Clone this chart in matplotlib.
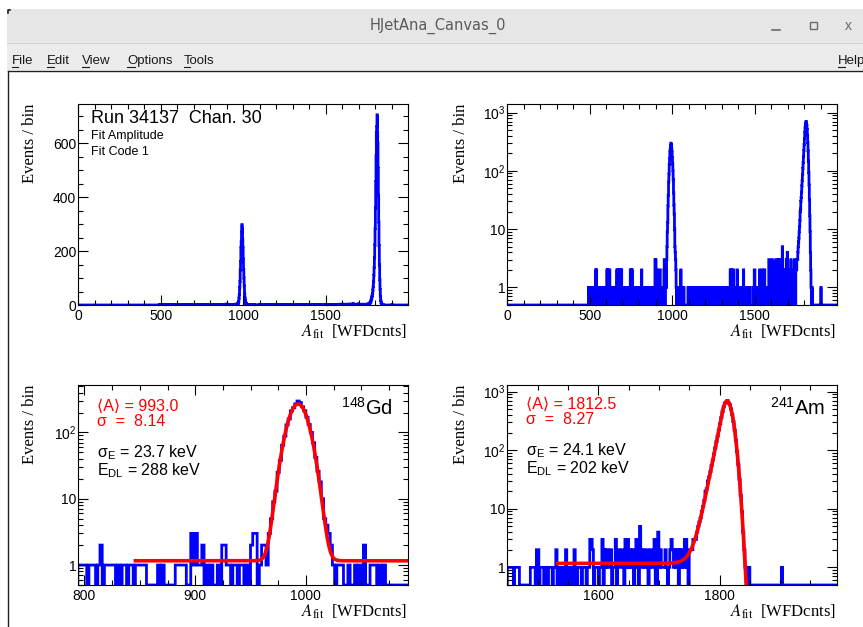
import numpy as np
import matplotlib
matplotlib.use("Agg")
import matplotlib.pyplot as plt
from matplotlib.patches import Rectangle
from matplotlib.ticker import FixedLocator, FixedFormatter, MultipleLocator, LogLocator, NullFormatter

plt.rcParams['font.family'] = ['Liberation Sans', 'DejaVu Sans']
plt.rcParams['mathtext.fontset'] = 'custom'
plt.rcParams['mathtext.rm'] = 'Liberation Sans'
plt.rcParams['mathtext.it'] = 'Liberation Sans:italic'
plt.rcParams['mathtext.bf'] = 'Liberation Sans:bold'

# ---- histogram of fitted amplitudes, 2 WFD counts per bin, 0..2000 ----
bin_width = 2
x_max = 2000

# background bins (left edge of bin) grouped by content
bkg_1 = [492, 496, 498, 502, 506, 508, 512, 514, 518, 522, 526, 530, 542, 546, 550,
         552, 556, 560, 562, 566, 568, 572, 576, 580, 582, 586, 588, 592, 596, 598,
         602, 610, 614, 616, 620, 624, 628, 632, 634, 638, 640, 644, 646, 650, 654,
         658, 662, 668, 674, 686, 692, 694, 698, 700, 704, 706, 710, 712, 716, 718,
         722, 724, 728, 730, 734, 736, 740, 742, 750, 758, 762, 766, 768, 772, 774,
         778, 780, 784, 786, 788, 790,
         794, 796, 798, 800, 804, 806, 808, 812, 818, 820, 822, 824, 826, 830, 834,
         836, 840, 842, 846, 848, 850, 852, 854, 866, 870, 882, 884, 886, 888, 890,
         898, 902, 904, 910, 914, 920, 928, 930, 934, 936, 940, 942, 946, 958,
         1028, 1030, 1032, 1038, 1044, 1048, 1058, 1060, 1062, 1066, 1070,
         1096, 1100, 1104, 1114, 1126, 1138, 1142, 1146, 1152, 1156, 1160, 1162, 1166,
         1170, 1172, 1178, 1182, 1186, 1190, 1192, 1196, 1198, 1204, 1208, 1212, 1216,
         1218, 1222, 1224, 1228, 1232, 1236, 1238, 1242, 1244, 1248, 1250, 1254, 1258,
         1262, 1264, 1268, 1270, 1274, 1276, 1280, 1284, 1288, 1290, 1294, 1296, 1300,
         1304, 1308, 1310, 1314, 1316, 1320, 1322, 1326, 1330, 1334, 1336, 1340, 1342,
         1346, 1348, 1356, 1362, 1366, 1370, 1376, 1380, 1384, 1390, 1398, 1404, 1408,
         1410, 1414, 1418, 1422, 1424, 1428, 1434, 1438, 1442, 1444,
         1450, 1452, 1454, 1456, 1458, 1462, 1464, 1466, 1468, 1488, 1490, 1492, 1494,
         1504, 1506, 1508, 1512, 1514, 1518, 1520, 1522, 1526, 1528, 1534, 1536, 1540,
         1542, 1550, 1552, 1556, 1560, 1562, 1566, 1568, 1570, 1574, 1576, 1578, 1582,
         1584, 1594, 1596, 1598, 1602, 1604, 1612, 1616, 1618, 1620, 1624, 1626, 1634,
         1636, 1644, 1646, 1650, 1654, 1660, 1664, 1672, 1676, 1678, 1680, 1684, 1688,
         1690, 1700, 1704, 1706, 1708, 1712, 1716, 1724, 1728, 1736, 1740, 1746,
         1848, 1902]
bkg_2 = [536, 540, 604, 608, 620, 664, 670, 676, 682, 688, 692, 746, 752, 756,
         814, 906, 924, 926, 950, 960, 1052,
         1352, 1358, 1372, 1394, 1432, 1498, 1500, 1530, 1546, 1560, 1590, 1610,
         1614, 1620, 1632, 1638, 1640, 1652, 1656, 1670, 1674, 1680, 1686, 1702,
         1710, 1718, 1722, 1726, 1730, 1734, 1738]
bkg_3 = [896, 900, 952, 954, 1586, 1588, 1606, 1628, 1644, 1648, 1662, 1692, 1720,
         1742, 1744]
bkg_4 = [1698]
bkg_5 = [1668]

# 148Gd peak, bins starting at 962
gd_first_bin = 962
gd_counts = [2, 1, 3, 5, 9, 13, 25, 38, 64, 88, 130, 160, 212, 236, 270, 298,
             282, 244, 212, 170, 132, 100, 70, 42, 26, 18, 10, 5, 4, 3, 2, 1]

# 241Am peak, bins starting at 1750
am_first_bin = 1750
am_counts = [2, 2, 2, 3, 3, 3, 4, 5, 6, 7, 9, 11, 14, 20, 22, 30, 35, 43, 55, 68,
             86, 110, 140, 175, 222, 283, 360, 457, 553, 640, 660, 705, 640, 600,
             507, 407, 308, 220, 148, 94, 57, 32, 17, 9, 4, 2, 1, 1]

# fit results (gaussian + flat background; Am with low-side exponential tail)
gd_mean, gd_sigma, gd_amp, gd_bkg = 993.0, 8.14, 268.0, 1.16
gd_fit_range = (846, 1092)
am_mean, am_sigma, am_amp, am_bkg, am_tail = 1812.5, 8.27, 690.0, 1.17, 1.0
am_fit_range = (1533, 1860)

edges = np.arange(0, x_max + bin_width, bin_width)
counts = np.zeros(len(edges) - 1)
for lst, c in ((bkg_1, 1), (bkg_2, 2), (bkg_3, 3), (bkg_4, 4), (bkg_5, 5)):
    counts[np.array(lst) // bin_width] = c
i0 = gd_first_bin // bin_width
counts[i0:i0 + len(gd_counts)] = gd_counts
i0 = am_first_bin // bin_width
counts[i0:i0 + len(am_counts)] = am_counts


def gd_fit(x):
    return gd_bkg + gd_amp * np.exp(-0.5 * ((x - gd_mean) / gd_sigma) ** 2)


def am_fit(x):
    d = (x - am_mean) / am_sigma
    core = np.where(d > -am_tail,
                    np.exp(-0.5 * d ** 2),
                    np.exp(0.5 * am_tail ** 2 + am_tail * d))
    return am_amp * core + np.where(x < am_mean, am_bkg, 0.0)


# ---- figure / window chrome (pixel coordinates) ----
W, H = 863, 627
fig = plt.figure(figsize=(W / 100, H / 100), dpi=100)

bg = fig.add_axes([0, 0, 1, 1], zorder=0)
bg.set_xlim(0, W)
bg.set_ylim(H, 0)
bg.axis('off')
bg.add_patch(Rectangle((7, 9), W - 7, 34, color='#e6e6e6', lw=0))
bg.add_patch(Rectangle((7, 43), W - 7, 1.2, color='#d2d2d2', lw=0))
bg.add_patch(Rectangle((7, 44.2), W - 7, 25.5, color='#ebebeb', lw=0))
bg.plot([7.5, W], [70.5, 70.5], color='#202020', lw=1.0)
bg.plot([7.5, 7.5], [70.5, H], color='#202020', lw=1.0)
bg.plot([7.5, 7.5, 10], [13, 9.5, 9.5], color='#202020', lw=1.2)
bg.text(438, 26, 'HJetAna_Canvas_0', ha='center', va='center', fontsize=10.5,
        family='DejaVu Sans', color='#5a5a5a')
bg.plot([772, 780], [30, 30], color='#6a6a6a', lw=1.2)
bg.add_patch(Rectangle((810, 22), 6.5, 6.5, fill=False, ec='#6a6a6a', lw=1.0))
bg.text(848, 26, 'x', ha='center', va='center', fontsize=10, color='#6a6a6a')

menu = [('File', 12, 6), ('Edit', 47, 7), ('View', 82, 7), ('Options', 127, 8),
        ('Tools', 184, 6), ('Help', 838, 7)]
for label, xm, ul in menu:
    bg.text(xm, 64, label, ha='left', va='baseline', fontsize=9.5, color='#1a1a1a',
            clip_on=True)
    bg.plot([xm, xm + ul], [66.5, 66.5], color='#1a1a1a', lw=0.8)


def add_panel(left, top, right, bottom):
    ax = fig.add_axes([left / W, 1 - bottom / H, (right - left) / W, (bottom - top) / H],
                      zorder=1)
    ax.set_facecolor('white')
    for s in ax.spines.values():
        s.set_linewidth(0.8)
    ax.tick_params(which='both', direction='in', top=True, right=True,
                   labelsize=10, width=0.8)
    ax.tick_params(which='major', length=7)
    ax.tick_params(which='minor', length=3.5)
    ax.tick_params(axis='x', pad=3.2)
    ax.tick_params(axis='y', pad=1.5)
    return ax


def log_y(ax, lo, hi, decades):
    ax.set_yscale('log')
    ax.set_ylim(lo, hi)
    ax.yaxis.set_major_locator(FixedLocator(decades))
    names = {1: '1', 10: '10', 100: r'$10^{2}$', 1000: r'$10^{3}$'}
    ax.yaxis.set_major_formatter(FixedFormatter([names[d] for d in decades]))
    ax.yaxis.set_minor_locator(LogLocator(base=10, subs=np.arange(2, 10), numticks=30))
    ax.yaxis.set_minor_formatter(NullFormatter())


hist_kw = dict(color='blue', lw=2.0, baseline=None)
fit_kw = dict(color='red', lw=2.6)

# top left: linear, full range
ax1 = add_panel(78.3, 104, 408, 305)
ax1.stairs(counts, edges, **hist_kw)
ax1.set_xlim(0, x_max)
ax1.set_ylim(0, 745)
ax1.xaxis.set_major_locator(FixedLocator([0, 500, 1000, 1500]))
ax1.xaxis.set_minor_locator(MultipleLocator(100))
ax1.yaxis.set_major_locator(FixedLocator([0, 200, 400, 600]))
ax1.yaxis.set_minor_locator(MultipleLocator(50))

# top right: log, full range
ax2 = add_panel(507.3, 104, 837, 305)
ax2.stairs(np.maximum(counts, 0.5), edges, **hist_kw)
ax2.set_xlim(0, x_max)
log_y(ax2, 0.5, 1400, [1, 10, 100, 1000])
ax2.xaxis.set_major_locator(FixedLocator([0, 500, 1000, 1500]))
ax2.xaxis.set_minor_locator(MultipleLocator(100))

# bottom left: 148Gd peak
ax3 = add_panel(78.3, 385, 408, 585)
ax3.stairs(np.maximum(counts, 0.5), edges, **hist_kw)
xg = np.linspace(*gd_fit_range, 600)
ax3.plot(xg, gd_fit(xg), **fit_kw)
ax3.set_xlim(0.8 * gd_mean, 1.1 * gd_mean)
log_y(ax3, 0.5, 520, [1, 10, 100])
ax3.xaxis.set_major_locator(FixedLocator([800, 900, 1000]))
ax3.xaxis.set_minor_locator(MultipleLocator(25))

# bottom right: 241Am peak
ax4 = add_panel(507.3, 385, 837, 585)
ax4.stairs(np.maximum(counts, 0.5), edges, **hist_kw)
xa = np.linspace(*am_fit_range, 800)
ax4.plot(xa, am_fit(xa), **fit_kw)
ax4.set_xlim(0.8 * am_mean, 1.1 * am_mean)
log_y(ax4, 0.5, 1300, [1, 10, 100, 1000])
ax4.xaxis.set_major_locator(FixedLocator([1600, 1800]))
ax4.xaxis.set_minor_locator(MultipleLocator(50))

# ---- overlay texts (pixel coordinates) ----
fg = fig.add_axes([0, 0, 1, 1], zorder=5)
fg.set_xlim(0, W)
fg.set_ylim(H, 0)
fg.axis('off')
fg.patch.set_alpha(0)

serif = ['Liberation Serif', 'DejaVu Serif']
for xr, yb in ((406.7, 337), (836.3, 337), (406.7, 617), (836.3, 617)):
    fg.text(xr, yb, r'$A_{\rm fit}$  [WFDcnts]', ha='right', va='baseline',
            fontsize=12, family=serif, math_fontfamily='stix')
for xc, yt in ((30, 104), (461, 104), (30, 385), (461, 385)):
    fg.text(xc, yt, 'Events / bin', rotation=90, ha='center', va='top',
            fontsize=12, family=serif)

fg.text(90.7, 123.3, 'Run 34137  Chan. 30', fontsize=13, va='baseline')
fg.text(90.7, 139.5, 'Fit Amplitude', fontsize=9, va='baseline')
fg.text(90.7, 155, 'Fit Code 1', fontsize=9, va='baseline')

panels_txt = [
    (96.7, 410.5, 393.3, gd_mean, gd_sigma, '23.7', '288', r'$^{148}$Gd'),
    (526.0, 408.5, 825.0, am_mean, am_sigma, '24.1', '202', r'$^{241}$Am'),
]
for xl, y0, xr, mean, sig, sig_e, e_dl, iso in panels_txt:
    fg.text(xl, y0, '\u27e8A\u27e9 = %.1f' % mean, color='red',
            fontsize=11.5, va='baseline')
    fg.text(xl, y0 + 16, 'σ  =  %.2f' % sig, color='red', fontsize=11.5, va='baseline')
    fg.text(xl, y0 + 46.5, 'σ$_{\\rm E}$ = %s keV' % sig_e, fontsize=11.5, va='baseline')
    fg.text(xl, y0 + 64.5, 'E$_{\\rm DL}$ = %s keV' % e_dl, fontsize=11.5, va='baseline')
    fg.text(xr, 415, iso, ha='right', va='baseline', fontsize=14.5)

fig.savefig('out.png', dpi=100, facecolor='white')
